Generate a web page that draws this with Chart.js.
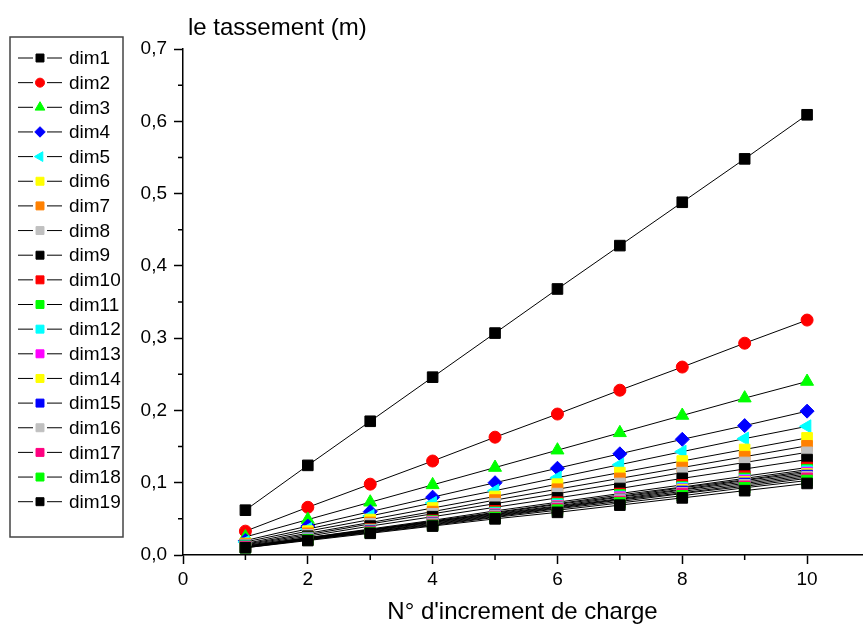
<!DOCTYPE html>
<html>
<head>
<meta charset="utf-8">
<script src="https://cdn.jsdelivr.net/npm/chart.js@4.4.0/dist/chart.umd.min.js"></script>
<style>
  html, body { margin: 0; padding: 0; background: #fff; }
  #wrap { width: 864px; height: 630px; }
</style>
</head>
<body>
<div id="wrap"><canvas id="chart" width="864" height="630"></canvas></div>
<script>
// load increments (x) and settlement in metres (y)
const increments = [1, 2, 3, 4, 5, 6, 7, 8, 9, 10];

const dim1  = [0.062, 0.124, 0.185, 0.246, 0.307, 0.368, 0.428, 0.488, 0.548, 0.609];
const dim2  = [0.033, 0.066, 0.098, 0.130, 0.163, 0.195, 0.228, 0.260, 0.293, 0.325];
const dim3  = [0.025, 0.049, 0.073, 0.097, 0.121, 0.145, 0.169, 0.193, 0.217, 0.240];
const dim4  = [0.020, 0.040, 0.060, 0.080, 0.100, 0.120, 0.140, 0.160, 0.179, 0.199];
const dim5  = [0.018, 0.036, 0.054, 0.072, 0.089, 0.107, 0.125, 0.143, 0.161, 0.178];
const dim6  = [0.016, 0.033, 0.049, 0.065, 0.081, 0.098, 0.114, 0.130, 0.146, 0.162];
const dim7  = [0.015, 0.030, 0.045, 0.060, 0.076, 0.091, 0.106, 0.121, 0.136, 0.151];
const dim8  = [0.014, 0.028, 0.043, 0.057, 0.071, 0.085, 0.099, 0.114, 0.128, 0.142];
const dim9  = [0.013, 0.026, 0.040, 0.053, 0.066, 0.079, 0.092, 0.106, 0.119, 0.132];
const dim10 = [0.012, 0.024, 0.036, 0.048, 0.061, 0.073, 0.085, 0.097, 0.109, 0.121];
const dim11 = [0.012, 0.024, 0.035, 0.047, 0.059, 0.071, 0.083, 0.094, 0.106, 0.118];
const dim12 = [0.012, 0.023, 0.035, 0.046, 0.058, 0.070, 0.081, 0.093, 0.104, 0.116];
const dim13 = [0.011, 0.023, 0.034, 0.046, 0.057, 0.068, 0.080, 0.091, 0.103, 0.114];
const dim14 = [0.011, 0.022, 0.034, 0.045, 0.056, 0.067, 0.078, 0.090, 0.101, 0.112];
const dim15 = [0.011, 0.022, 0.033, 0.044, 0.055, 0.066, 0.077, 0.088, 0.099, 0.110];
const dim16 = [0.011, 0.022, 0.032, 0.043, 0.054, 0.065, 0.076, 0.086, 0.097, 0.108];
const dim17 = [0.011, 0.021, 0.032, 0.042, 0.053, 0.064, 0.074, 0.085, 0.095, 0.106];
const dim18 = [0.010, 0.021, 0.031, 0.041, 0.052, 0.062, 0.072, 0.082, 0.093, 0.103];
const dim19 = [0.010, 0.020, 0.030, 0.040, 0.050, 0.059, 0.069, 0.079, 0.089, 0.099];

const seriesNames = ['dim1','dim2','dim3','dim4','dim5','dim6','dim7','dim8','dim9','dim10',
                     'dim11','dim12','dim13','dim14','dim15','dim16','dim17','dim18','dim19'];
const seriesValues = [dim1, dim2, dim3, dim4, dim5, dim6, dim7, dim8, dim9, dim10,
                      dim11, dim12, dim13, dim14, dim15, dim16, dim17, dim18, dim19];
const seriesColors = ['#000000','#ff0000','#00ff00','#0000ff','#00ffff','#ffff00','#ff8000','#c0c0c0','#000000','#ff0000',
                      '#00ff00','#00ffff','#ff00ff','#ffff00','#0000ff','#c0c0c0','#ff0080','#00ff00','#000000'];

const xTicks = [0, 2, 4, 6, 8, 10];
const xMinorTicks = [1, 3, 5, 7, 9];
const yTicks = [0, 0.1, 0.2, 0.3, 0.4, 0.5, 0.6, 0.7];
const yMinorTicks = [0.05, 0.15, 0.25, 0.35, 0.45, 0.55, 0.65];

const xTitle = "N° d'increment de charge";
const yTitle = 'le tassement (m)';

const FONT = '"Liberation Sans", Arial, sans-serif';

// marker shape per series (Origin default cycle, then squares)
function markerFor(i) {
  if (i === 1) return { style: 'circle', rot: 0, r: 6 };
  if (i === 2) return { style: 'triangle', rot: 0, r: 7.5 };
  if (i === 3) return { style: 'rectRot', rot: 0, r: 7 };
  if (i === 4) return { style: 'triangle', rot: -90, r: 7.5 };
  return { style: 'rect', rot: 0, r: 7.5 };
}

const datasets = seriesValues.map((vals, i) => {
  const m = markerFor(i);
  return {
    label: seriesNames[i],
    data: vals.map((v, k) => ({ x: increments[k], y: v })),
    borderColor: '#000',
    borderWidth: 1,
    pointStyle: m.style,
    pointRotation: m.rot,
    pointRadius: m.r,
    pointBackgroundColor: seriesColors[i],
    pointBorderColor: seriesColors[i],
    pointBorderWidth: 1,
    order: -i
  };
});

// minor ticks, left title and framed legend
const extras = {
  id: 'extras',
  afterDraw(chart) {
    const ctx = chart.ctx;
    const xs = chart.scales.x, ys = chart.scales.y;
    const area = chart.chartArea;
    ctx.save();
    ctx.strokeStyle = '#000';
    ctx.lineWidth = 1.5;
    ctx.beginPath();
    xMinorTicks.forEach(v => {
      const px = xs.getPixelForValue(v);
      ctx.moveTo(px, area.bottom);
      ctx.lineTo(px, area.bottom + 5);
    });
    yMinorTicks.forEach(v => {
      const py = ys.getPixelForValue(v);
      ctx.moveTo(area.left, py);
      ctx.lineTo(area.left - 5, py);
    });
    ctx.stroke();

    ctx.fillStyle = '#000';
    ctx.font = '24px ' + FONT;
    ctx.textBaseline = 'middle';
    ctx.textAlign = 'left';
    ctx.fillText(yTitle, area.left + 5, 28);

    // legend
    ctx.strokeStyle = '#444';
    ctx.lineWidth = 1.5;
    ctx.strokeRect(10, 37, 113, 500);
    chart.data.datasets.forEach((ds, i) => {
      const y = 58 + i * 24.65;
      ctx.strokeStyle = '#000';
      ctx.lineWidth = 1;
      ctx.beginPath();
      ctx.moveTo(18, y); ctx.lineTo(33, y);
      ctx.moveTo(47, y); ctx.lineTo(62, y);
      ctx.stroke();
      ctx.fillStyle = ds.pointBackgroundColor;
      ctx.strokeStyle = ds.pointBorderColor;
      Chart.helpers.drawPoint(ctx, {
        pointStyle: ds.pointStyle,
        rotation: ds.pointRotation,
        radius: ds.pointRadius * 0.75,
        borderWidth: 1
      }, 40, y);
      ctx.fillStyle = '#000';
      ctx.font = '19px ' + FONT;
      ctx.textBaseline = 'middle';
      ctx.fillText(ds.label, 69, y + 1);
    });
    ctx.restore();
  }
};

const fmt = v => v.toFixed(1).replace('.', ',');

new Chart(document.getElementById('chart').getContext('2d'), {
  type: 'line',
  data: { datasets },
  options: {
    responsive: false,
    animation: false,
    layout: { autoPadding: false, padding: { left: 125, top: 49, right: 2, bottom: 0 } },
    plugins: { legend: { display: false }, tooltip: { enabled: false } },
    scales: {
      x: {
        type: 'linear',
        min: 0, max: 10.88,
        afterBuildTicks: axis => { axis.ticks = xTicks.map(v => ({ value: v })); },
        afterFit: axis => { axis.height = 75; },
        grid: { drawOnChartArea: false, drawTicks: true, tickLength: 9, tickColor: '#000', tickWidth: 1.5 },
        border: { color: '#000', width: 1.5 },
        ticks: { color: '#000', font: { family: FONT, size: 19 }, padding: 4, maxRotation: 0, callback: v => String(v) },
        title: { display: true, text: xTitle, color: '#000', font: { family: FONT, size: 24 }, padding: { top: 4, bottom: 3 } }
      },
      y: {
        min: 0, max: 0.7,
        afterBuildTicks: axis => { axis.ticks = yTicks.map(v => ({ value: v })); },
        afterFit: axis => { axis.width = 58; },
        grid: { drawOnChartArea: false, drawTicks: true, tickLength: 9, tickColor: '#000', tickWidth: 1.5 },
        border: { color: '#000', width: 1.5 },
        ticks: { color: '#000', font: { family: FONT, size: 19 }, padding: 7, callback: v => fmt(v) }
      }
    }
  },
  plugins: [extras]
});
</script>
</body>
</html>
